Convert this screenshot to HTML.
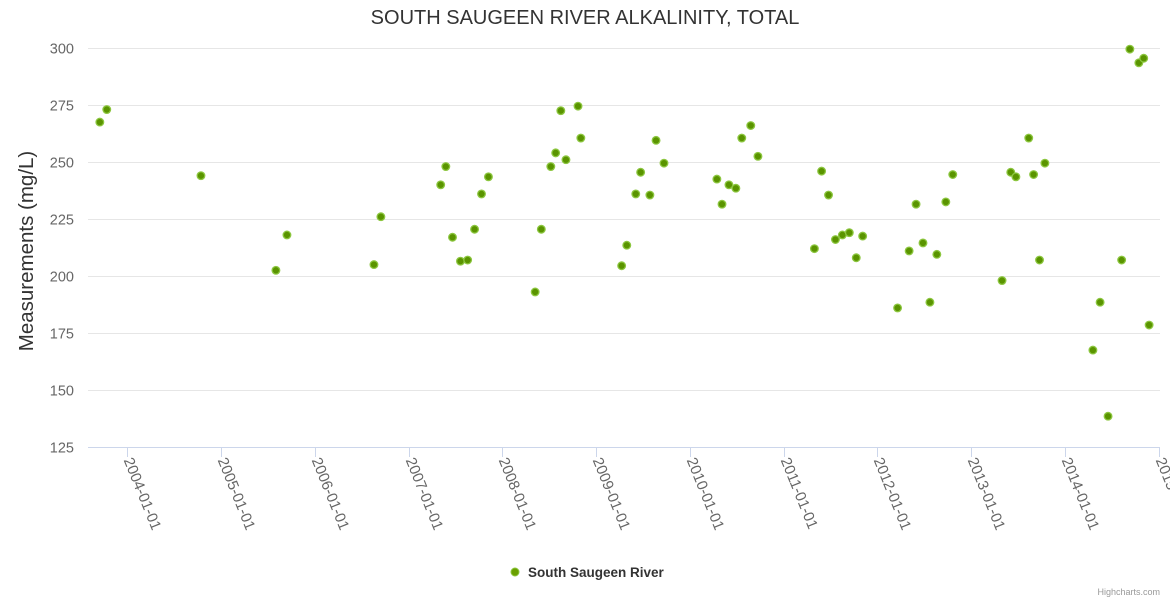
<!DOCTYPE html>
<html><head><meta charset="utf-8">
<style>
html,body{margin:0;padding:0;background:#fff;}
svg{display:block;font-family:"Liberation Sans","DejaVu Sans",sans-serif;}
</style></head>
<body>
<svg id="chart" width="1170" height="600" viewBox="0 0 1170 600">
  <text x="585" y="24" text-anchor="middle" font-size="20" fill="#333">SOUTH SAUGEEN RIVER ALKALINITY, TOTAL</text>
  <g id="grid"></g>
  <g id="yticks"></g>
  <text transform="translate(33,251) rotate(-90)" text-anchor="middle" font-size="20.5" fill="#333">Measurements (mg/L)</text>
  <line x1="88" y1="447.5" x2="1160" y2="447.5" stroke="#ccd6eb" stroke-width="1"/>
  <g id="xticks"></g>
  <g id="points"></g>
  <g>
    <circle cx="515" cy="572" r="4" fill="#6aa000" stroke="#8cc63f" stroke-width="1"/>
    <text x="528" y="577" font-size="13.5" font-weight="bold" fill="#333">South Saugeen River</text>
  </g>
  <text x="1160" y="595" text-anchor="end" font-size="9" fill="#999">Highcharts.com</text>
</svg>
<script>
const dates = ["2003-09-16","2003-10-13","2004-10-14","2005-08-02","2005-09-14","2006-08-19","2006-09-15","2007-05-06","2007-05-26","2007-06-21","2007-07-22","2007-08-19","2007-09-15","2007-10-12","2007-11-08","2008-05-08","2008-06-01","2008-07-08","2008-07-27","2008-08-16","2008-09-05","2008-10-22","2008-11-02","2009-04-10","2009-04-30","2009-06-04","2009-06-23","2009-07-29","2009-08-22","2009-09-22","2010-04-16","2010-05-06","2010-06-02","2010-06-29","2010-07-22","2010-08-26","2010-09-23","2011-05-01","2011-05-29","2011-06-25","2011-07-22","2011-08-18","2011-09-14","2011-10-11","2011-11-05","2012-03-20","2012-05-04","2012-05-31","2012-06-27","2012-07-24","2012-08-20","2012-09-24","2012-10-21","2013-05-01","2013-06-04","2013-06-24","2013-08-13","2013-09-01","2013-09-24","2013-10-15","2014-04-20","2014-05-18","2014-06-18","2014-08-10","2014-09-11","2014-10-16","2014-11-04","2014-11-25"];
const values = [267.5,273,244,202.5,218,205,226,240,248,217,206.5,207,220.5,236,243.5,193,220.5,248,254,272.5,251,274.5,260.5,204.5,213.5,236,245.5,235.5,259.5,249.5,242.5,231.5,240,238.5,260.5,266,252.5,212,246,235.5,216,218,219,208,217.5,186,211,231.5,214.5,188.5,209.5,232.5,244.5,198,245.5,243.5,260.5,244.5,207,249.5,167.5,188.5,138.5,207,299.5,293.5,295.5,178.5];
const yTicks = [125,150,175,200,225,250,275,300];
const xTickLabels = ["2004-01-01","2005-01-01","2006-01-01","2007-01-01","2008-01-01","2009-01-01","2010-01-01","2011-01-01","2012-01-01","2013-01-01","2014-01-01","2015-01-01"];

const NS = "http://www.w3.org/2000/svg";
const t0 = Date.UTC(2004,0,1), YEAR = 365.25*86400000;
function xScale(d){ const p=d.split("-").map(Number); return 127.3 + (Date.UTC(p[0],p[1]-1,p[2])-t0)/YEAR*93.75; }
function yScale(v){ return 447 - (v-125)/175*399; }

const grid=document.getElementById("grid"), yt=document.getElementById("yticks");
yTicks.forEach(v=>{
  const y=Math.round(yScale(v))+0.5;
  if(v!==125){
    const l=document.createElementNS(NS,"line");
    l.setAttribute("x1",88);l.setAttribute("x2",1160);l.setAttribute("y1",y);l.setAttribute("y2",y);
    l.setAttribute("stroke","#e6e6e6");
    
    
    grid.appendChild(l);
  }
  const t=document.createElementNS(NS,"text");
  t.setAttribute("x",74);t.setAttribute("y",y+5);t.setAttribute("text-anchor","end");
  t.setAttribute("font-size","14.5");t.setAttribute("fill","#666");
  t.textContent=v;
  
  
  yt.appendChild(t);
});

const xt=document.getElementById("xticks");
xTickLabels.forEach(d=>{
  const x=Math.round(xScale(d))+0.5;
  const l=document.createElementNS(NS,"line");
  l.setAttribute("x1",x);l.setAttribute("x2",x);l.setAttribute("y1",447);l.setAttribute("y2",457);
  l.setAttribute("stroke","#ccd6eb");
  
  
  xt.appendChild(l);
  const t=document.createElementNS(NS,"text");
  t.setAttribute("transform","translate("+(x-4)+",460) rotate(68)");
  t.setAttribute("font-size","15");t.setAttribute("fill","#666");
  t.textContent=d;
  
  
  xt.appendChild(t);
});

const pts=document.getElementById("points");
dates.forEach((d,i)=>{
  const c=document.createElementNS(NS,"circle");
  c.setAttribute("cx",xScale(d));c.setAttribute("cy",yScale(values[i]));c.setAttribute("r",3.8);
  c.setAttribute("fill","#5a9400");c.setAttribute("stroke","#8cc63f");c.setAttribute("stroke-width","1.3");
  
  
  pts.appendChild(c);
});
</script>
</body></html>
